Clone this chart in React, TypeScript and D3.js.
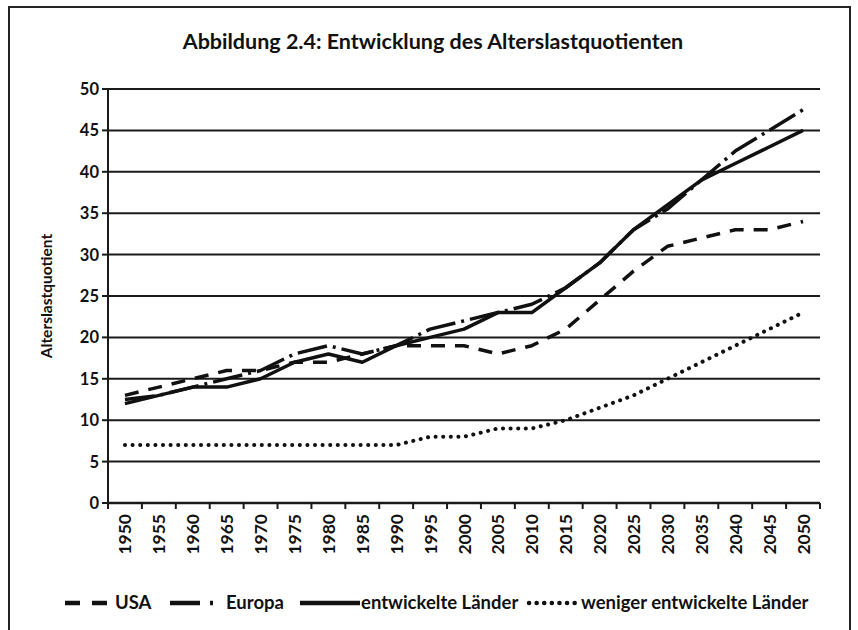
import React from "react";
import * as d3 from "d3";

const years = ["1950","1955","1960","1965","1970","1975","1980","1985","1990","1995","2000","2005","2010","2015","2020","2025","2030","2035","2040","2045","2050"];
const usa = [13,14,15,16,16,17,17,18,19,19,19,18,19,21,24.5,28,31,32,33,33,34];
const europa = [12.5,13,14,15,16,18,19,18,19,21,22,23,24,26,29,33,35.5,39,42.5,45,47.5];
const entwickelt = [12,13,14,14,15,17,18,17,19,20,21,23,23,26,29,33,36,39,41,43,45];
const weniger = [7,7,7,7,7,7,7,7,7,8,8,9,9,10,11.5,13,15,17,19,21,23];
const yTicks = [0,5,10,15,20,25,30,35,40,45,50];

const title = "Abbildung 2.4: Entwicklung des Alterslastquotienten";
const yTitle = "Alterslastquotient";

const seriesDefs = [
  { name: "USA", values: usa, dash: "14,10", cap: "butt" },
  { name: "Europa", values: europa, dash: "30,6,3,6", cap: "butt" },
  { name: "entwickelte Länder", values: entwickelt, dash: "", cap: "butt" },
  { name: "weniger entwickelte Länder", values: weniger, dash: "0.1,7.5", cap: "round" },
];

const FONT = "Lato, 'Open Sans', sans-serif";

export default function App() {
  const W = 858, H = 630;
  const left = 108, right = 820, top = 89, bottom = 503;
  const x = d3.scaleBand<string>().domain(years).range([left, right]).padding(0);
  const y = d3.scaleLinear().domain([0, 50]).range([bottom, top]);
  const line = d3.line<number>()
    .x((_, i) => (x(years[i]) as number) + x.bandwidth() / 2)
    .y((d) => y(d));

  const legendY = 603;
  const legendItems = [
    { s: seriesDefs[0], lx: 65, lw: 42, tx: 115, dash: "15,12" },
    { s: seriesDefs[1], lx: 170, lw: 44, tx: 226, dash: "30,10,3,6" },
    { s: seriesDefs[2], lx: 300, lw: 60, tx: 361, dash: "" },
    { s: seriesDefs[3], lx: 529, lw: 46, tx: 581, dash: "0.1,7.5" },
  ];

  return (
    <svg width={W} height={H} style={{ position: "absolute", left: 0, top: 0, background: "#fff" }} fontFamily={FONT}>
      <rect x={9} y={7} width={841} height={640} fill="#fff" stroke="#222" strokeWidth={2} />
      <text x={433} y={49} textAnchor="middle" fontSize={21.5} fontWeight="bold" fill="#111">{title}</text>
      <text transform={`translate(52,${(top + bottom) / 2}) rotate(-90)`} textAnchor="middle" fontSize={15.5} fontWeight="bold" fill="#111">{yTitle}</text>

      {yTicks.map((t) => (
        <g key={t}>
          <line x1={left} x2={right} y1={y(t)} y2={y(t)} stroke="#1a1a1a" strokeWidth={t === 0 ? 2.5 : 2} />
          <line x1={left - 6} x2={left} y1={y(t)} y2={y(t)} stroke="#1a1a1a" strokeWidth={2} />
          <text x={left - 9} y={y(t) + 6} textAnchor="end" fontSize={16.5} fontWeight="bold" fill="#111">{t}</text>
        </g>
      ))}
      <line x1={left} x2={left} y1={top} y2={bottom} stroke="#1a1a1a" strokeWidth={2} />
      {years.map((yr) => (
        <line key={"t" + yr} x1={(x(yr) as number)} x2={(x(yr) as number)} y1={bottom} y2={bottom + 6} stroke="#1a1a1a" strokeWidth={2} />
      ))}
      <line x1={right} x2={right} y1={bottom} y2={bottom + 6} stroke="#1a1a1a" strokeWidth={2} />
      {years.map((yr) => {
        const cx = (x(yr) as number) + x.bandwidth() / 2;
        return (
          <text key={"l" + yr} transform={`translate(${cx + 6.5},${bottom + 11}) rotate(-90)`} textAnchor="end" fontSize={17.5} fontWeight="bold" fill="#111">{yr}</text>
        );
      })}

      {seriesDefs.map((s) => (
        <path key={s.name} d={line(s.values) as string} fill="none" stroke="#111" strokeWidth={s.cap === "round" ? 4 : 3.5}
          strokeDasharray={s.dash || undefined} strokeLinecap={s.cap as any} strokeLinejoin="round" />
      ))}

      {legendItems.map(({ s, lx, lw, tx, dash }) => (
        <g key={"lg" + s.name}>
          <line x1={lx} x2={lx + lw} y1={legendY} y2={legendY} stroke="#111" strokeWidth={4.5}
            strokeDasharray={dash || undefined} strokeLinecap={s.cap as any} />
          <text x={tx} y={legendY + 6} fontSize={18.5} fontWeight="bold" fill="#111">{s.name}</text>
        </g>
      ))}
    </svg>
  );
}
